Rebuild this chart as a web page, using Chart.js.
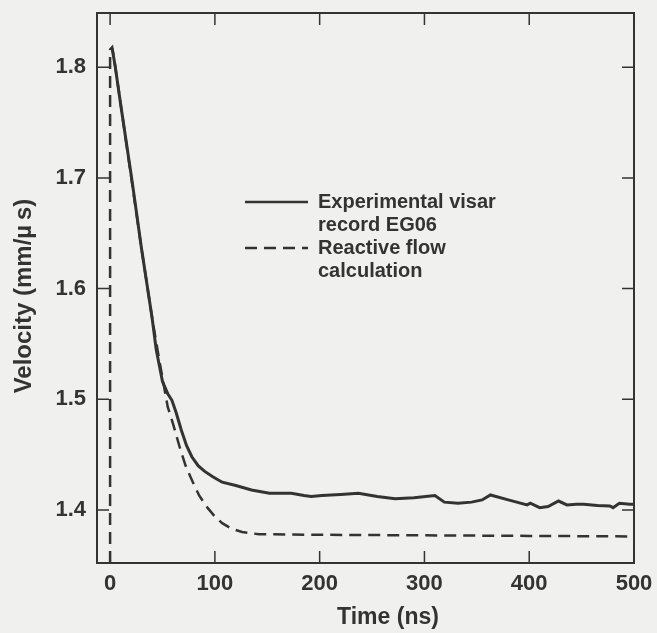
<!DOCTYPE html>
<html>
<head>
<meta charset="utf-8">
<script src="https://cdn.jsdelivr.net/npm/chart.js@4.4.1/dist/chart.umd.min.js"></script>
<style>
  html, body { margin: 0; padding: 0; background: #f0f0ee; }
  #wrap { width: 657px; height: 633px; }
</style>
</head>
<body>
<div id="wrap"><canvas id="c" width="657" height="633"></canvas></div>
<script>
// ---- data ----
const expTime = [2, 5, 10, 21, 30, 35, 40, 44, 50, 55, 59, 63, 68, 73, 78, 84, 90, 98, 107, 120, 135, 152, 173, 185, 192, 202, 220, 237, 255, 272, 290, 310, 319, 332, 345, 355, 363, 380, 398, 401, 410, 418, 428, 436, 445, 452, 465, 477, 480, 486, 496, 500];
const expVel  = [1.817, 1.800, 1.767, 1.697, 1.636, 1.605, 1.574, 1.545, 1.516, 1.505, 1.499, 1.488, 1.472, 1.458, 1.448, 1.440, 1.435, 1.430, 1.425, 1.422, 1.418, 1.415, 1.415, 1.413, 1.412, 1.413, 1.414, 1.415, 1.412, 1.410, 1.411, 1.413, 1.407, 1.406, 1.407, 1.409, 1.4135, 1.409, 1.4045, 1.406, 1.402, 1.403, 1.408, 1.4045, 1.405, 1.405, 1.404, 1.4035, 1.402, 1.406, 1.405, 1.405];

const calcTime = [0, 0, 2, 5, 30, 40, 47, 55, 60, 66, 72, 79, 85, 92, 100, 107, 116, 126, 142, 200, 300, 400, 500];
const calcVel  = [1.352, 1.816, 1.818, 1.800, 1.636, 1.574, 1.535, 1.493, 1.478, 1.458, 1.440, 1.425, 1.413, 1.403, 1.394, 1.388, 1.383, 1.380, 1.378, 1.3775, 1.377, 1.3765, 1.376];

const xTicks = [0, 100, 200, 300, 400, 500];
const yTicks = [1.4, 1.5, 1.6, 1.7, 1.8];
const seriesNames = [["Experimental visar", "record EG06"], ["Reactive flow", "calculation"]];
const xTitle = "Time (ns)";
const yTitle = "Velocity (mm/\u00B5\u2009s)";

const INK = '#333333';
const FONT = '"Liberation Sans", Arial, Helvetica, sans-serif';

const toXY = (xs, ys) => xs.map((x, i) => ({ x: x, y: ys[i] }));

const decor = {
  id: 'decor',
  beforeDraw(chart) {
    const ctx = chart.ctx;
    ctx.save();
    ctx.fillStyle = '#f0f0ee';
    ctx.fillRect(0, 0, chart.width, chart.height);
    ctx.restore();
  },
  afterDraw(chart) {
    const ctx = chart.ctx;
    const a = chart.chartArea;
    const xs = chart.scales.x, ys = chart.scales.y;
    ctx.save();
    // frame
    ctx.strokeStyle = INK;
    ctx.lineWidth = 2;
    ctx.strokeRect(a.left, a.top, a.right - a.left, a.bottom - a.top);
    // inward ticks on all sides
    ctx.lineWidth = 1.5;
    const tl = 12;
    ctx.beginPath();
    xTicks.forEach(v => {
      const px = xs.getPixelForValue(v);
      ctx.moveTo(px, a.bottom); ctx.lineTo(px, a.bottom - tl);
      ctx.moveTo(px, a.top); ctx.lineTo(px, a.top + tl);
    });
    yTicks.forEach(v => {
      const py = ys.getPixelForValue(v);
      ctx.moveTo(a.left, py); ctx.lineTo(a.left + tl, py);
      ctx.moveTo(a.right, py); ctx.lineTo(a.right - tl, py);
    });
    ctx.stroke();

    // axis titles
    ctx.fillStyle = INK;
    ctx.textAlign = 'center';
    ctx.textBaseline = 'middle';
    ctx.font = 'bold 23px ' + FONT;
    ctx.fillText(xTitle, 388, 618);
    ctx.save();
    ctx.translate(24, 296);
    ctx.rotate(-Math.PI / 2);
    ctx.font = 'bold 24px ' + FONT;
    ctx.fillText(yTitle, 0, 0);
    ctx.restore();

    // legend
    const lx0 = a.left + 148, lx1 = a.left + 211, tx = a.left + 221;
    const rows = [202, 248];
    ctx.lineWidth = 2.5;
    ctx.strokeStyle = INK;
    rows.forEach((ry, i) => {
      ctx.setLineDash(i === 0 ? [] : [12, 7]);
      ctx.beginPath();
      ctx.moveTo(lx0, ry); ctx.lineTo(lx1, ry);
      ctx.stroke();
    });
    ctx.setLineDash([]);
    ctx.font = 'bold 20px ' + FONT;
    ctx.textAlign = 'left';
    ctx.textBaseline = 'middle';
    seriesNames.forEach((lines, i) => {
      lines.forEach((t, j) => ctx.fillText(t, tx, rows[i] + j * 23));
    });
    ctx.restore();
  }
};

new Chart(document.getElementById('c'), {
  type: 'line',
  data: {
    datasets: [
      {
        label: seriesNames[0].join(' '),
        data: toXY(expTime, expVel),
        borderColor: INK,
        borderWidth: 3,
        pointRadius: 0,
        tension: 0,
        fill: false
      },
      {
        label: seriesNames[1].join(' '),
        data: toXY(calcTime, calcVel),
        borderColor: INK,
        borderWidth: 2.5,
        borderDash: [12, 7],
        pointRadius: 0,
        tension: 0,
        fill: false
      }
    ]
  },
  options: {
    responsive: false,
    animation: false,
    devicePixelRatio: 1,
    layout: { padding: { left: 0, right: 23, top: 13, bottom: 0 } },
    plugins: { legend: { display: false }, tooltip: { enabled: false } },
    scales: {
      x: {
        type: 'linear',
        min: -12.5,
        max: 500,
        afterBuildTicks: s => { s.ticks = xTicks.map(v => ({ value: v })); },
        afterFit: s => { s.height = 70; s.paddingLeft = 0; s.paddingRight = 0; },
        grid: { display: false, drawTicks: false },
        border: { display: false },
        ticks: {
          color: INK,
          padding: 8,
          maxRotation: 0,
          font: { family: FONT, size: 22, weight: 'bold' }
        }
      },
      y: {
        type: 'linear',
        min: 1.352,
        max: 1.849,
        afterBuildTicks: s => { s.ticks = yTicks.map(v => ({ value: v })); },
        afterFit: s => { s.width = 97; s.paddingTop = 0; s.paddingBottom = 0; },
        grid: { display: false, drawTicks: false },
        border: { display: false },
        ticks: {
          color: INK,
          padding: 11,
          callback: v => v.toFixed(1),
          font: { family: FONT, size: 22, weight: 'bold' }
        }
      }
    }
  },
  plugins: [decor]
});
</script>
</body>
</html>
